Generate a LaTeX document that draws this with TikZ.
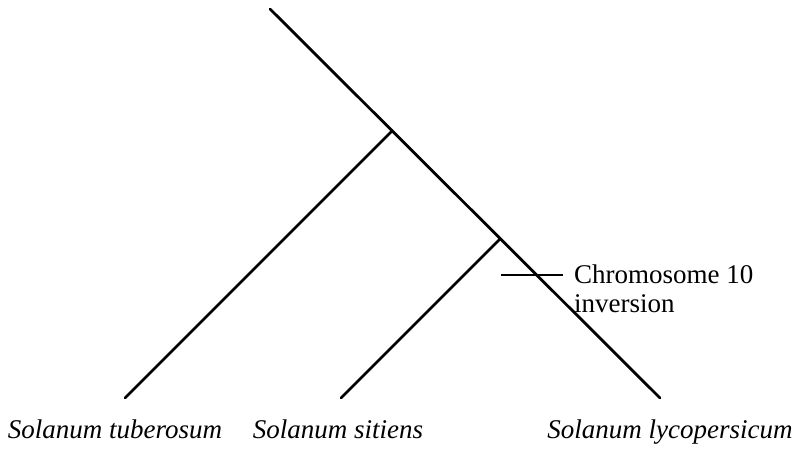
\documentclass[tikz,border=0pt]{standalone}
\usepackage{fontspec}
\setmainfont{Liberation Serif}
\begin{document}
\begin{tikzpicture}[x=1pt,y=-1pt,
  branch/.style={line width=2.8pt,line cap=round},
  tick/.style={line width=1.4pt},
  lbl/.style={font=\fontsize{27}{28}\selectfont,inner sep=0pt},
  taxon/.style={font=\fontsize{27}{28}\selectfont\itshape,inner sep=0pt,anchor=base}]
\useasboundingbox (0,0) rectangle (800,452);
\coordinate (root) at (270,9);
\coordinate (j1) at (392,131);
\coordinate (j2) at (500,239);
\coordinate (tub) at (125,398);
\coordinate (sit) at (341,398);
\coordinate (lyc) at (660,398);
\coordinate (ta) at (501,275);
\coordinate (tb) at (563,275);
\draw[branch] (root) -- (lyc);
\draw[branch] (j1) -- (tub);
\draw[branch] (j2) -- (sit);
\draw[tick] (ta) -- (tb);
\node[lbl,anchor=base west] (chr) at (574,283) {Chromosome 10};
\node[lbl,anchor=base west] (inv) at (574,312) {inversion};
\node[taxon] (ntub) at (115,438) {Solanum tuberosum};
\node[taxon] (nsit) at (338,438) {Solanum sitiens};
\node[taxon] (nlyc) at (670,438) {Solanum lycopersicum};
\end{tikzpicture}
\end{document}
